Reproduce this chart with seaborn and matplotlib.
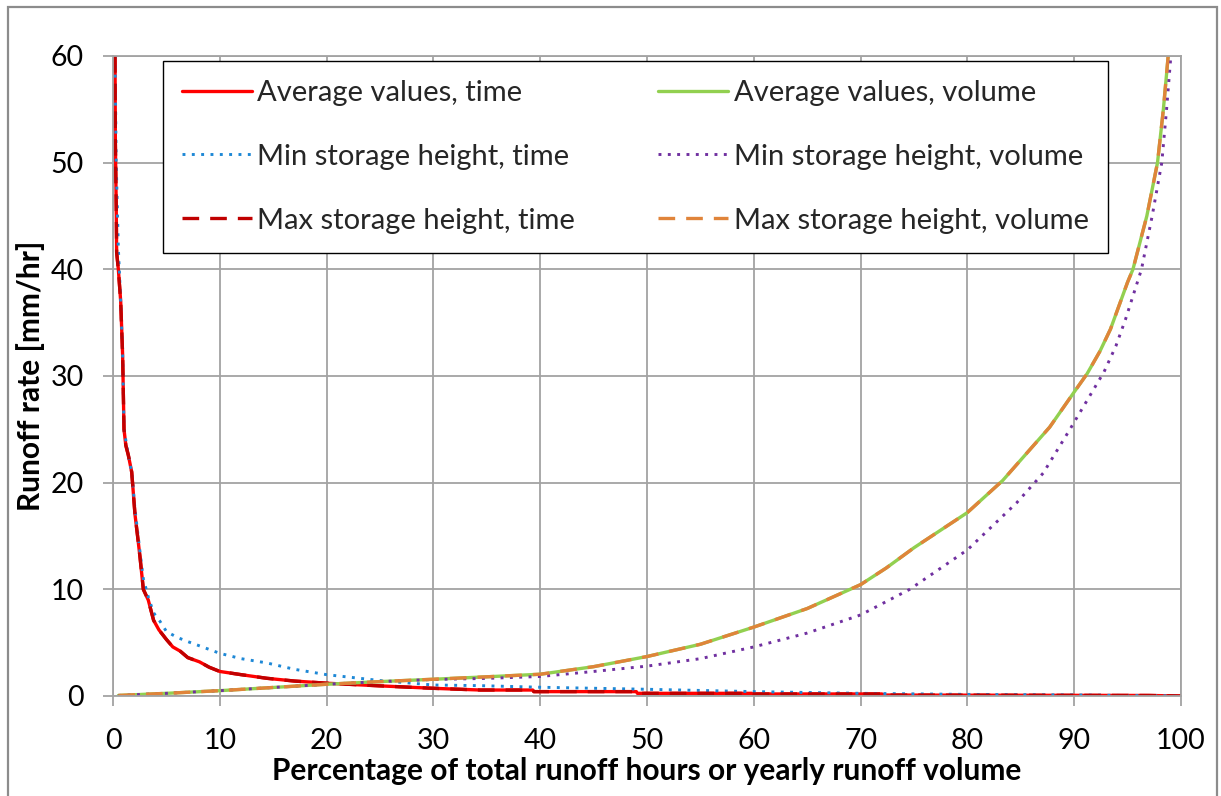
import numpy as np
import pandas as pd
import matplotlib
matplotlib.use("Agg")
import matplotlib.pyplot as plt
from matplotlib.patches import Rectangle
import seaborn as sns

# ---------------- data ----------------
avg_time_x = [0.19, 0.22, 0.30, 0.34, 0.50, 0.72, 0.90, 1.03, 1.20, 1.43, 1.75, 2.06, 2.30, 2.53,
              2.84, 3.30, 3.80, 4.30, 5.00, 5.60, 6.30, 7.00, 8.10, 9.00, 10.0, 12.0, 14.4, 17.0,
              20.0, 25.0, 30.0, 34.4, 39.3, 39.4, 49.0, 49.1, 59.8, 60.0, 72.0, 72.1, 85.0, 97.0, 100.0]
avg_time_y = [60.0, 52.0, 46.0, 41.6, 40.0, 37.0, 32.0, 25.0, 23.5, 22.6, 21.0, 17.0, 15.0, 13.0,
              10.0, 9.0, 7.1, 6.2, 5.3, 4.6, 4.2, 3.6, 3.2, 2.7, 2.3, 2.0, 1.66, 1.4,
              1.2, 0.95, 0.72, 0.56, 0.56, 0.41, 0.41, 0.25, 0.25, 0.19, 0.19, 0.09, 0.07, 0.05, 0.0]

min_time_x = [0.19, 0.30, 0.50, 0.72, 0.90, 1.03, 1.43, 1.75, 2.06, 2.53, 2.84, 3.30, 3.80, 4.40,
              5.00, 6.00, 7.00, 8.10, 10.0, 12.0, 14.4, 17.0, 20.0, 25.0, 30.0, 34.4, 40.0, 50.0,
              60.0, 70.0, 80.0, 90.0, 100.0]
min_time_y = [60.0, 50.0, 42.0, 37.0, 32.0, 25.0, 22.6, 21.0, 17.5, 13.5, 11.0, 9.3, 7.8, 7.0,
              6.05, 5.5, 5.1, 4.7, 4.0, 3.5, 3.1, 2.5, 2.0, 1.45, 1.03, 0.97, 0.82, 0.63,
              0.41, 0.25, 0.15, 0.10, 0.0]

max_time_x = [0.19, 0.22, 0.30, 0.34, 0.50, 0.72, 0.90, 1.03, 1.20, 1.43, 1.75, 2.06, 2.30, 2.53,
              2.84, 3.30, 3.80, 4.30, 5.00, 5.60, 6.30, 7.00, 8.10, 9.00, 10.0, 12.0, 14.4, 17.0,
              20.0, 25.0, 30.0, 34.4, 39.3, 39.4, 49.0, 49.1, 59.8, 60.0, 72.0, 72.1, 85.0, 97.0, 100.0]
max_time_y = [60.0, 52.0, 46.0, 41.6, 40.0, 37.0, 32.0, 25.0, 23.5, 22.6, 21.0, 17.0, 15.0, 13.0,
              10.0, 9.0, 7.1, 6.2, 5.3, 4.6, 4.2, 3.6, 3.2, 2.7, 2.3, 2.0, 1.66, 1.4,
              1.2, 0.95, 0.72, 0.56, 0.56, 0.41, 0.41, 0.25, 0.25, 0.19, 0.19, 0.09, 0.07, 0.05, 0.0]

avg_vol_x = [0.5, 5, 10, 15, 20, 25, 30, 35, 40, 45, 50, 55, 60, 65, 70, 72.4, 75, 80, 83.3,
             87.7, 90, 91.2, 92.4, 93.4, 95.0, 95.5, 96.8, 97.8, 98.35, 98.8]
avg_vol_y = [0.05, 0.25, 0.5, 0.8, 1.1, 1.35, 1.57, 1.8, 2.04, 2.75, 3.7, 4.85, 6.46, 8.2, 10.44,
             12.0, 13.9, 17.2, 20.2, 25.2, 28.5, 30.2, 32.3, 34.4, 38.8, 40.0, 45.0, 50.0, 55.0, 60.0]

min_vol_x = [0.5, 5, 10, 15, 20, 25, 30, 35, 40, 45, 50, 55, 60, 65, 70, 74.6, 80, 84.6, 87.1,
             89.6, 92.8, 93.9, 94.8, 96.3, 97.3, 98.2, 98.65, 99.05]
min_vol_y = [0.05, 0.25, 0.5, 0.8, 1.1, 1.35, 1.55, 1.65, 1.83, 2.3, 2.8, 3.5, 4.6, 5.9, 7.6,
             10.0, 13.7, 18.1, 20.9, 25.0, 30.4, 32.8, 35.3, 40.0, 45.0, 50.0, 55.0, 60.0]

max_vol_x = [0.5, 5, 10, 15, 20, 25, 30, 35, 40, 45, 50, 55, 60, 65, 70, 72.4, 75, 80, 83.3,
             87.7, 90, 91.2, 92.4, 93.4, 95.0, 95.5, 96.8, 97.8, 98.35, 98.8]
max_vol_y = [0.05, 0.25, 0.5, 0.8, 1.1, 1.35, 1.57, 1.8, 2.04, 2.75, 3.7, 4.85, 6.46, 8.2, 10.44,
             12.0, 13.9, 17.2, 20.2, 25.2, 28.5, 30.2, 32.3, 34.4, 38.8, 40.0, 45.0, 50.0, 55.0, 60.0]

series_labels = ["Average values, time", "Min storage height, time", "Max storage height, time",
                 "Average values, volume", "Min storage height, volume", "Max storage height, volume"]
x_ticks = [0, 10, 20, 30, 40, 50, 60, 70, 80, 90, 100]
y_ticks = [0, 10, 20, 30, 40, 50, 60]
x_label = "Percentage of total runoff hours or yearly runoff volume"
y_label = "Runoff rate [mm/hr]"

# ---------------- styling ----------------
sns.set_theme(style="white")
plt.rcParams["font.family"] = ["Lato", "DejaVu Sans"]
FS_TICK = 20.5
FS_LEG = 21
FS_LAB = 21.5
GRID = "#A3A3A3"

fig = plt.figure(figsize=(12.21, 7.96), dpi=100)
ax = fig.add_axes([0.09255, 0.12563, 0.87469, 0.80402])

styles = [
    dict(color="#FF0000", linestyle="-", linewidth=2.4),
    dict(color="#1E88D6", linestyle=(0, (1, 2.2)), linewidth=2.1),
    dict(color="#C00000", linestyle=(0, (5, 3.3)), linewidth=2.4),
    dict(color="#92D050", linestyle="-", linewidth=2.4),
    dict(color="#7030A0", linestyle=(0, (1, 2.2)), linewidth=2.1),
    dict(color="#E0843A", linestyle=(0, (5, 3.3)), linewidth=2.4),
]
data = [(avg_time_x, avg_time_y), (min_time_x, min_time_y), (max_time_x, max_time_y),
        (avg_vol_x, avg_vol_y), (min_vol_x, min_vol_y), (max_vol_x, max_vol_y)]

for (xs, ys), lab, st in zip(data, series_labels, styles):
    df = pd.DataFrame({"x": xs, "y": ys})
    sns.lineplot(data=df, x="x", y="y", ax=ax, label=lab, sort=False, estimator=None,
                 **st)

ax.set_xlim(0, 100)
ax.set_ylim(0, 60)
ax.set_xticks(x_ticks)
ax.set_yticks(y_ticks)
ax.grid(True, color=GRID, linewidth=1.3)
for sp in ax.spines.values():
    sp.set_color(GRID)
    sp.set_linewidth(1.3)
ax.tick_params(axis="both", which="major", length=7.2, width=1.3, color=GRID,
               labelsize=FS_TICK, labelcolor="black", direction="out")
ax.tick_params(axis="x", pad=15.5, bottom=True)
ax.tick_params(axis="y", pad=14.0, left=True)

ax.set_xlabel(x_label, fontsize=FS_LAB, fontweight="bold", color="black", va="top")
ax.xaxis.set_label_coords(0.5, -0.095)
ax.set_ylabel(y_label, fontsize=FS_LAB, fontweight="bold", color="black", va="bottom")
ax.yaxis.set_label_coords(-0.064, 0.5)

leg = ax.legend(ncol=2, loc="upper left", bbox_to_anchor=(0.0465, 0.9925),
                borderaxespad=0, fontsize=FS_LEG, frameon=True, fancybox=False,
                framealpha=1, edgecolor="black", handlelength=2.4, handletextpad=0.2,
                columnspacing=2.85, labelspacing=1.3, borderpad=0.65)
leg.get_frame().set_linewidth(1.0)

# outer chart border
fig.patches.append(Rectangle((0.00655, -0.1), 0.99017, 1.0912, transform=fig.transFigure,
                             fill=False, edgecolor="#8C8C8C", linewidth=1.6))

fig.savefig("out.png", dpi=100, facecolor="white")
